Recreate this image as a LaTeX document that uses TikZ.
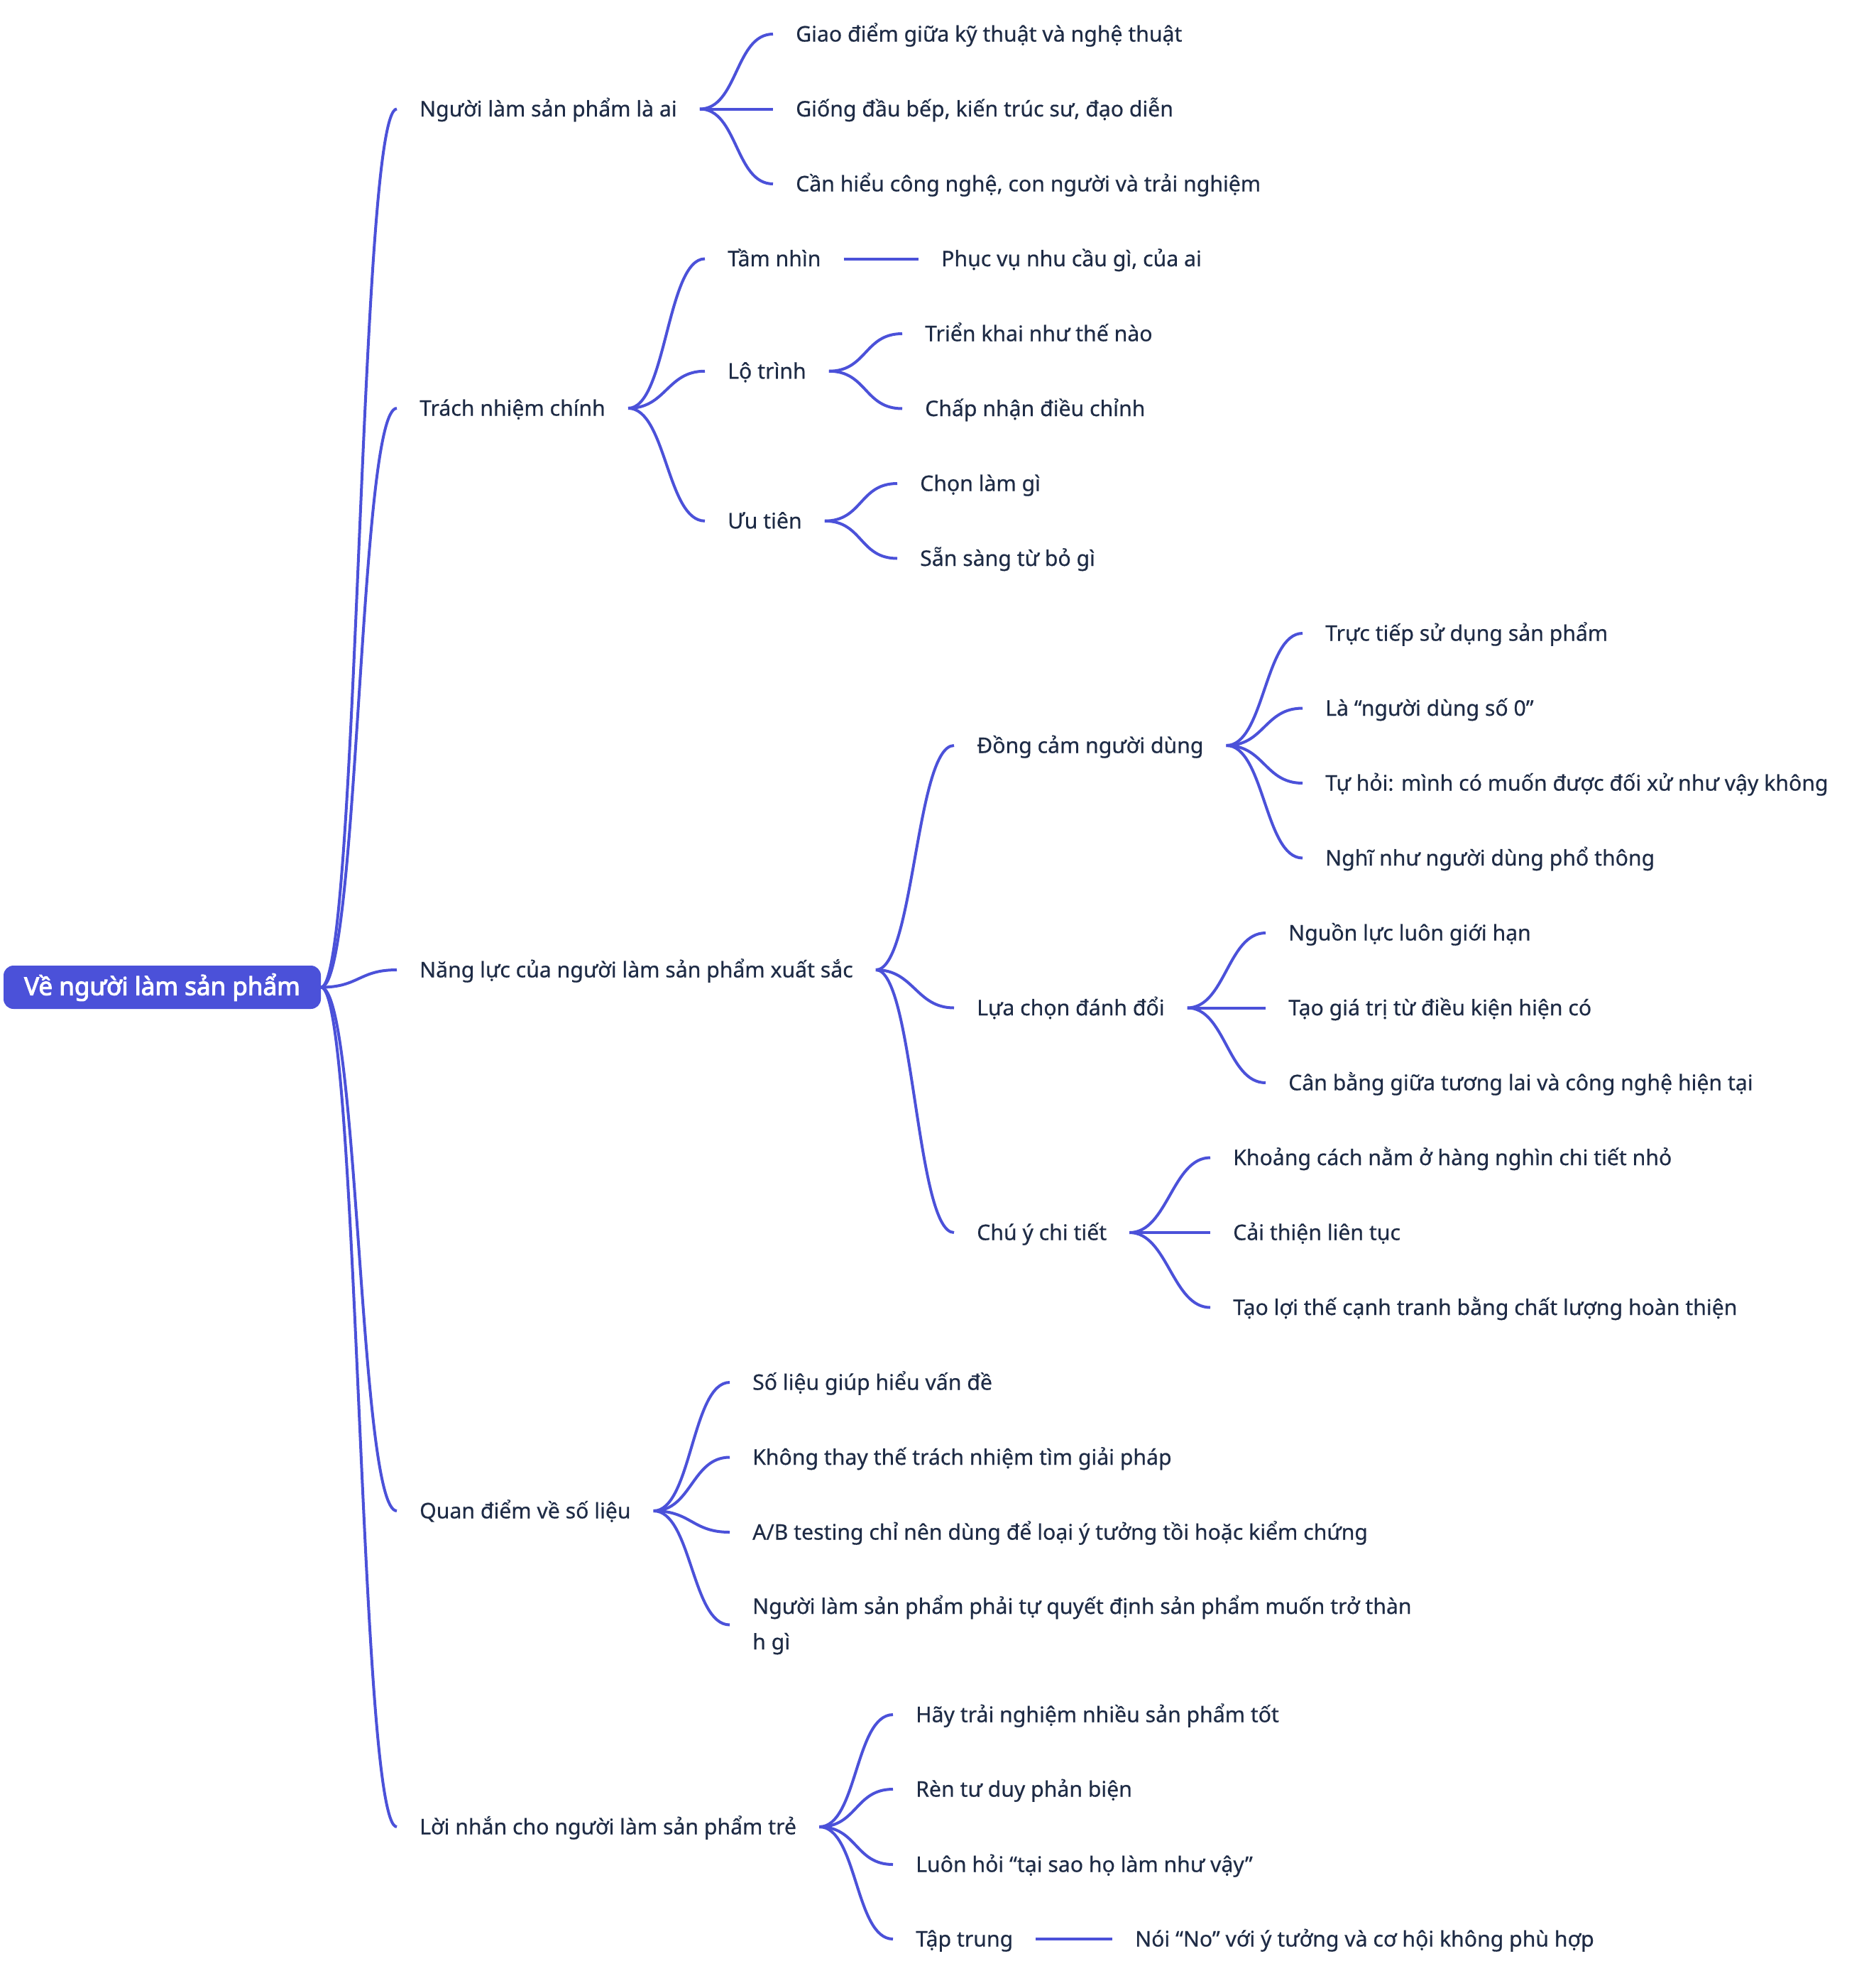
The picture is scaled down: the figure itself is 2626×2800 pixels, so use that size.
\documentclass[tikz,border=0pt]{standalone}
\usepackage{fontspec}
\setmainfont{Noto Sans}[FakeBold=0.5]
\newfontfamily\rootfont{Noto Sans}[FakeBold=3]
\usetikzlibrary{positioning}
\definecolor{mapline}{HTML}{4B51D9}
\definecolor{mapink}{HTML}{1E2B45}
\tikzset{
	topic/.style={anchor=west,inner xsep=32pt,inner ysep=0pt,text height=29pt,text depth=8pt,text=mapink,font=\fontsize{30.2}{50}\selectfont},
	central/.style={fill=mapline,rounded corners=14pt,text=white,font=\fontsize{35}{40}\rootfont,minimum width=447pt,minimum height=61pt,inner sep=0pt},
	branch/.style={draw=mapline,line width=4pt},
}
\begin{document}
\begin{tikzpicture}[x=1pt,y=1pt]
	\useasboundingbox (0,0) rectangle (2626,-2800);
	\node[central] (root) at (228.5,-1390.5) {Về người làm sản phẩm};

	\node[topic] (who) at (559,-153.5) {Người làm sản phẩm là ai};
	\node[topic] (duty) at (559,-575) {Trách nhiệm chính};
	\node[topic] (skill) at (559,-1366) {Năng lực của người làm sản phẩm xuất sắc};
	\node[topic] (data) at (559,-2128) {Quan điểm về số liệu};
	\node[topic] (tips) at (559,-2573) {Lời nhắn cho người làm sản phẩm trẻ};

	\node[topic] (who1) at (1089,-48) {Giao điểm giữa kỹ thuật và nghệ thuật};
	\node[topic] (who2) at (1089,-153.5) {Giống đầu bếp, kiến trúc sư, đạo diễn};
	\node[topic] (who3) at (1089,-259) {Cần hiểu công nghệ, con người và trải nghiệm};

	\node[topic] (vision) at (993,-364.5) {Tầm nhìn};
	\node[topic] (road) at (993,-522.75) {Lộ trình};
	\node[topic] (prio) at (993,-733.75) {Ưu tiên};
	\node[topic] (vision1) at (1294,-364.5) {Phục vụ nhu cầu gì, của ai};
	\node[topic] (road1) at (1271,-470) {Triển khai như thế nào};
	\node[topic] (road2) at (1271,-575.5) {Chấp nhận điều chỉnh};
	\node[topic] (prio1) at (1264,-681) {Chọn làm gì};
	\node[topic] (prio2) at (1264,-786.5) {Sẵn sàng từ bỏ gì};

	\node[topic] (empathy) at (1344,-1050) {Đồng cảm người dùng};
	\node[topic] (trade) at (1344,-1419.5) {Lựa chọn đánh đổi};
	\node[topic] (detail) at (1344,-1736) {Chú ý chi tiết};
	\node[topic] (empathy1) at (1835,-892) {Trực tiếp sử dụng sản phẩm};
	\node[topic] (empathy2) at (1835,-997.5) {Là “người dùng số 0”};
	\node[topic] (empathy3) at (1835,-1103) {Tự hỏi: mình có muốn được đối xử như vậy không};
	\node[topic] (empathy4) at (1835,-1208.5) {Nghĩ như người dùng phổ thông};
	\node[topic] (trade1) at (1783,-1314) {Nguồn lực luôn giới hạn};
	\node[topic] (trade2) at (1783,-1419.5) {Tạo giá trị từ điều kiện hiện có};
	\node[topic] (trade3) at (1783,-1525) {Cân bằng giữa tương lai và công nghệ hiện tại};
	\node[topic] (detail1) at (1705,-1630.5) {Khoảng cách nằm ở hàng nghìn chi tiết nhỏ};
	\node[topic] (detail2) at (1705,-1736) {Cải thiện liên tục};
	\node[topic] (detail3) at (1705,-1841.5) {Tạo lợi thế cạnh tranh bằng chất lượng hoàn thiện};

	\node[topic] (data1) at (1028,-1947) {Số liệu giúp hiểu vấn đề};
	\node[topic] (data2) at (1028,-2052.5) {Không thay thế trách nhiệm tìm giải pháp};
	\node[topic] (data3) at (1028,-2158) {A/B testing chỉ nên dùng để loại ý tưởng tồi hoặc kiểm chứng};
	\node[topic,text height={},text depth={},align=left] (data4) at (1028,-2288.5) {Người làm sản phẩm phải tự quyết định sản phẩm muốn trở thàn\\h gì};

	\node[topic] (tips1) at (1258,-2415) {Hãy trải nghiệm nhiều sản phẩm tốt};
	\node[topic] (tips2) at (1258,-2520) {Rèn tư duy phản biện};
	\node[topic] (tips3) at (1258,-2626) {Luôn hỏi “tại sao họ làm như vậy”};
	\node[topic] (focus) at (1258,-2731) {Tập trung};
	\node[topic] (focus1) at (1567,-2731) {Nói “No” với ý tưởng và cơ hội không phù hợp};

	\foreach \p/\c in {root/who,root/duty,root/skill,root/data,root/tips,
		who/who1,who/who2,who/who3,duty/vision,duty/road,duty/prio,
		vision/vision1,road/road1,road/road2,prio/prio1,prio/prio2,
		skill/empathy,skill/trade,skill/detail,
		empathy/empathy1,empathy/empathy2,empathy/empathy3,empathy/empathy4,
		trade/trade1,trade/trade2,trade/trade3,detail/detail1,detail/detail2,detail/detail3,
		data/data1,data/data2,data/data3,data/data4,
		tips/tips1,tips/tips2,tips/tips3,tips/focus,focus/focus1}
		\draw[branch] (\p.east) .. controls +(53.5,0) and +(-53.5,0) .. (\c.west);
\end{tikzpicture}
\end{document}
